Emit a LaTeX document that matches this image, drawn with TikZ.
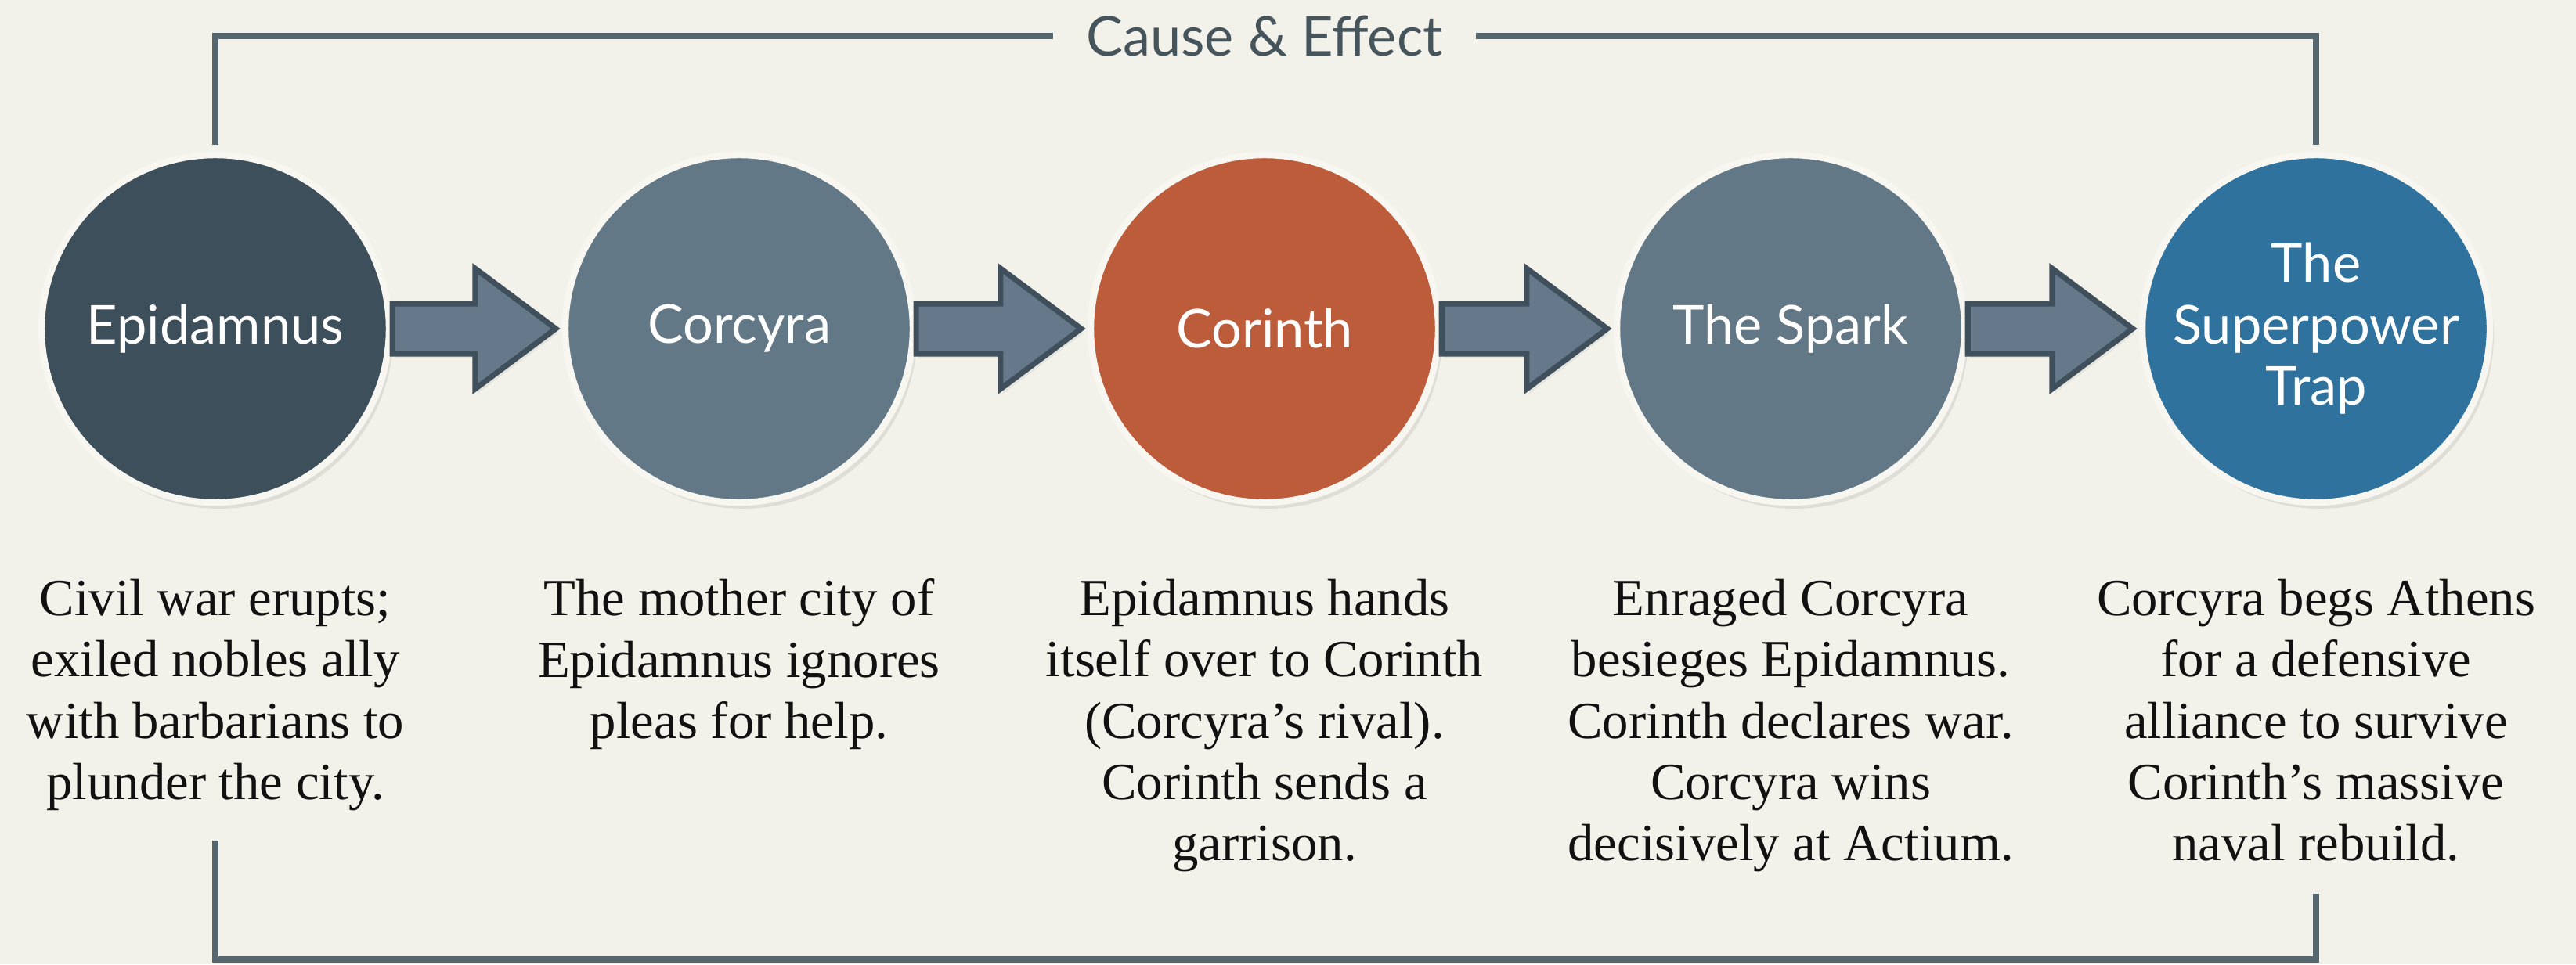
\documentclass[tikz,border=0pt]{standalone}
\usepackage{fontspec}
\setmainfont{Liberation Serif}
\newfontfamily\labelfont{Lato}
\usetikzlibrary{positioning,calc,shadows}
\definecolor{paper}{HTML}{F3F2EA}
\definecolor{frameline}{HTML}{56666F}
\definecolor{titleink}{HTML}{46545C}
\definecolor{slatedark}{HTML}{3E4F5C}
\definecolor{slate}{HTML}{637886}
\definecolor{rust}{HTML}{BD5C3B}
\definecolor{sea}{HTML}{2E729D}
\definecolor{ring}{HTML}{F8F6F0}
\definecolor{arrowfill}{HTML}{66798A}
\definecolor{arrowline}{HTML}{3F4F5B}
\definecolor{ink}{HTML}{111111}

\begin{document}
\begin{tikzpicture}[
    event/.style={circle, minimum size=4.44cm, inner sep=0pt, draw=ring, line width=2.4pt,
      text=white, align=center, font=\labelfont\fontsize{19.5}{22.3}\selectfont,
      drop shadow={opacity=0.18, shadow xshift=0.05cm, shadow yshift=-0.08cm}},
    desc/.style={inner sep=0pt, align=center, text=ink, font=\fontsize{19}{22.3}\selectfont},
    frame/.style={draw=frameline, line width=2.2pt},
    flow/.style={fill=arrowfill, draw=arrowline, line width=2pt, line join=miter,
      drop shadow={opacity=0.12, shadow xshift=0.03cm, shadow yshift=-0.06cm},
      to path={let \p1=(\tikztostart.east), \p2=(\tikztotarget.west) in
        (\x1,\y1+0.32cm) -- (\x2-1.11cm,\y1+0.32cm) -- (\x2-1.11cm,\y1+0.77cm)
        -- (\x2-0.08cm,\y1) -- (\x2-1.11cm,\y1-0.77cm) -- (\x2-1.11cm,\y1-0.32cm)
        -- (\x1,\y1-0.32cm) -- cycle}}
  ]
    \fill[paper] (0,0) rectangle (32.9,12.32);
    \useasboundingbox (0,0) rectangle (32.9,12.32);

    \node[font=\labelfont\fontsize{20}{24}\selectfont, text=titleink, inner xsep=0.42cm] (title) at (16.15,11.86) {Cause \& Effect};

    \coordinate (TopL) at (2.75,10.47);
    \coordinate (TopR) at (29.58,10.47);
    \coordinate (BotL) at (2.75,1.58);
    \coordinate (BotR) at (29.58,0.90);

    \draw[frame] (TopL) |- (title.west);
    \draw[frame] (title.east) -| (TopR);
    \draw[frame] (BotL) -- ++(0,-1.52) -| (BotR);

    \node[event, fill=slatedark] (Epidamnus) at (2.75,8.12) {Epidamnus};
    \node[event, fill=slate] (Corcyra) at (9.44,8.12) {Corcyra};
    \node[event, fill=rust] (Corinth) at (16.15,8.12) {Corinth};
    \node[event, fill=slate] (Spark) at (22.87,8.12) {The Spark};
    \node[event, fill=sea] (Trap) at (29.58,8.12) {The\\Superpower\\Trap};

    \draw[flow] (Epidamnus) to (Corcyra);
    \draw[flow] (Corcyra) to (Corinth);
    \draw[flow] (Corinth) to (Spark);
    \draw[flow] (Spark) to (Trap);

    \node[desc, below=0.93cm of Epidamnus] (EpidamnusText) {Civil war erupts;\\exiled nobles ally\\with barbarians to\\plunder the city.};
    \node[desc, below=0.93cm of Corcyra] (CorcyraText) {The mother city of\\Epidamnus ignores\\pleas for help.};
    \node[desc, below=0.93cm of Corinth] (CorinthText) {Epidamnus hands\\itself over to Corinth\\(Corcyra’s rival).\\Corinth sends a\\garrison.};
    \node[desc, below=0.93cm of Spark] (SparkText) {Enraged Corcyra\\besieges Epidamnus.\\Corinth declares war.\\Corcyra wins\\decisively at Actium.};
    \node[desc, below=0.93cm of Trap] (TrapText) {Corcyra begs Athens\\for a defensive\\alliance to survive\\Corinth’s massive\\naval rebuild.};
\end{tikzpicture}
\end{document}
